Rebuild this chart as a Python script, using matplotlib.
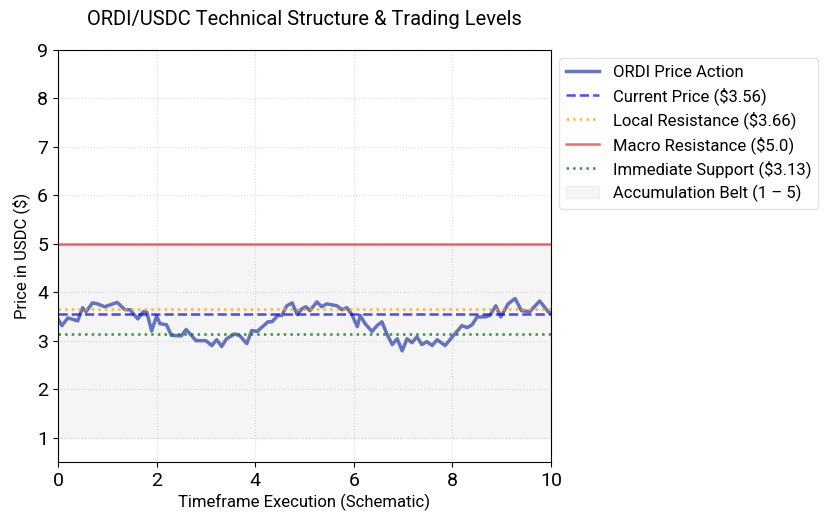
import numpy as np
import matplotlib
matplotlib.use("Agg")
import matplotlib.pyplot as plt

plt.rcParams['font.family'] = ['Roboto', 'DejaVu Sans']

# price path
t = [0, 0.08, 0.2, 0.4, 0.5, 0.57, 0.7, 0.8, 0.95, 1.2, 1.36, 1.46, 1.62, 1.73, 1.8,
     1.9, 2.0, 2.07, 2.2, 2.3, 2.5, 2.6, 2.8, 3.0, 3.12, 3.22, 3.32, 3.42, 3.59, 3.69,
     3.83, 3.93, 4.04, 4.26, 4.34, 4.46, 4.54, 4.64, 4.75, 4.85, 4.95, 5.03, 5.11, 5.25,
     5.35, 5.45, 5.66, 5.76, 5.86, 5.96, 6.07, 6.13, 6.23, 6.37, 6.47, 6.57, 6.67, 6.78,
     6.88, 6.98, 7.08, 7.18, 7.28, 7.38, 7.48, 7.59, 7.69, 7.85, 8.05, 8.19, 8.3, 8.4,
     8.5, 8.66, 8.76, 8.88, 8.98, 9.13, 9.27, 9.4, 9.57, 9.77, 9.94, 10]
price = [3.45, 3.31, 3.47, 3.41, 3.68, 3.6, 3.78, 3.76, 3.70, 3.79, 3.64, 3.64, 3.45, 3.60, 3.59,
         3.2, 3.51, 3.35, 3.33, 3.11, 3.10, 3.23, 3.0, 3.0, 2.9, 3.02, 2.88, 3.04, 3.14, 3.10,
         2.94, 3.21, 3.19, 3.39, 3.39, 3.52, 3.52, 3.72, 3.78, 3.54, 3.66, 3.70, 3.62, 3.80,
         3.70, 3.76, 3.72, 3.64, 3.68, 3.54, 3.29, 3.52, 3.35, 3.19, 3.31, 3.39, 3.14, 2.92,
         3.04, 2.79, 3.04, 2.96, 3.08, 2.92, 2.98, 2.90, 3.02, 2.90, 3.14, 3.31, 3.27, 3.33,
         3.49, 3.49, 3.52, 3.72, 3.49, 3.76, 3.87, 3.62, 3.60, 3.82, 3.60, 3.56]

current_price = 3.56
local_res = 3.66
macro_res = 5.0
support = 3.13
belt = (1, 5)

fig = plt.figure(figsize=(8.28, 5.29), dpi=100)
ax = fig.add_axes([0.070, 0.127, 0.5955, 0.7785])

ax.plot(t, price, color='#3f51b5', alpha=0.8, linewidth=2.5, label='ORDI Price Action')
ax.axhline(current_price, color='blue', linestyle='--', alpha=0.7, linewidth=1.8,
           label=f'Current Price (${current_price})')
ax.axhline(local_res, color='orange', linestyle=':', alpha=0.8, linewidth=1.8,
           label=f'Local Resistance (${local_res})')
ax.axhline(macro_res, color='red', linestyle='-', alpha=0.6, linewidth=1.8,
           label=f'Macro Resistance (${macro_res})')
ax.axhline(support, color='green', linestyle=':', alpha=0.8, linewidth=1.8,
           label=f'Immediate Support (${support})')
ax.axhspan(belt[0], belt[1], color='gray', alpha=0.08,
           label=f'Accumulation Belt ({belt[0]} – {belt[1]})')

ax.set_xlim(0, 10)
ax.set_ylim(0.5, 9)
ax.set_xticks([0, 2, 4, 6, 8, 10])
ax.set_yticks(range(1, 10))
ax.tick_params(labelsize=14)
ax.grid(True, linestyle=':', alpha=0.45)
ax.set_title('ORDI/USDC Technical Structure & Trading Levels', fontsize=14.5, pad=18)
ax.set_xlabel('Timeframe Execution (Schematic)', fontsize=12, labelpad=3)
ax.set_ylabel('Price in USDC ($)', fontsize=12, labelpad=5)
ax.legend(loc='upper left', bbox_to_anchor=(1.0, 1.0), fontsize=12,
          labelspacing=0.4, edgecolor='#dddddd')

fig.savefig('out.png', dpi=100)
